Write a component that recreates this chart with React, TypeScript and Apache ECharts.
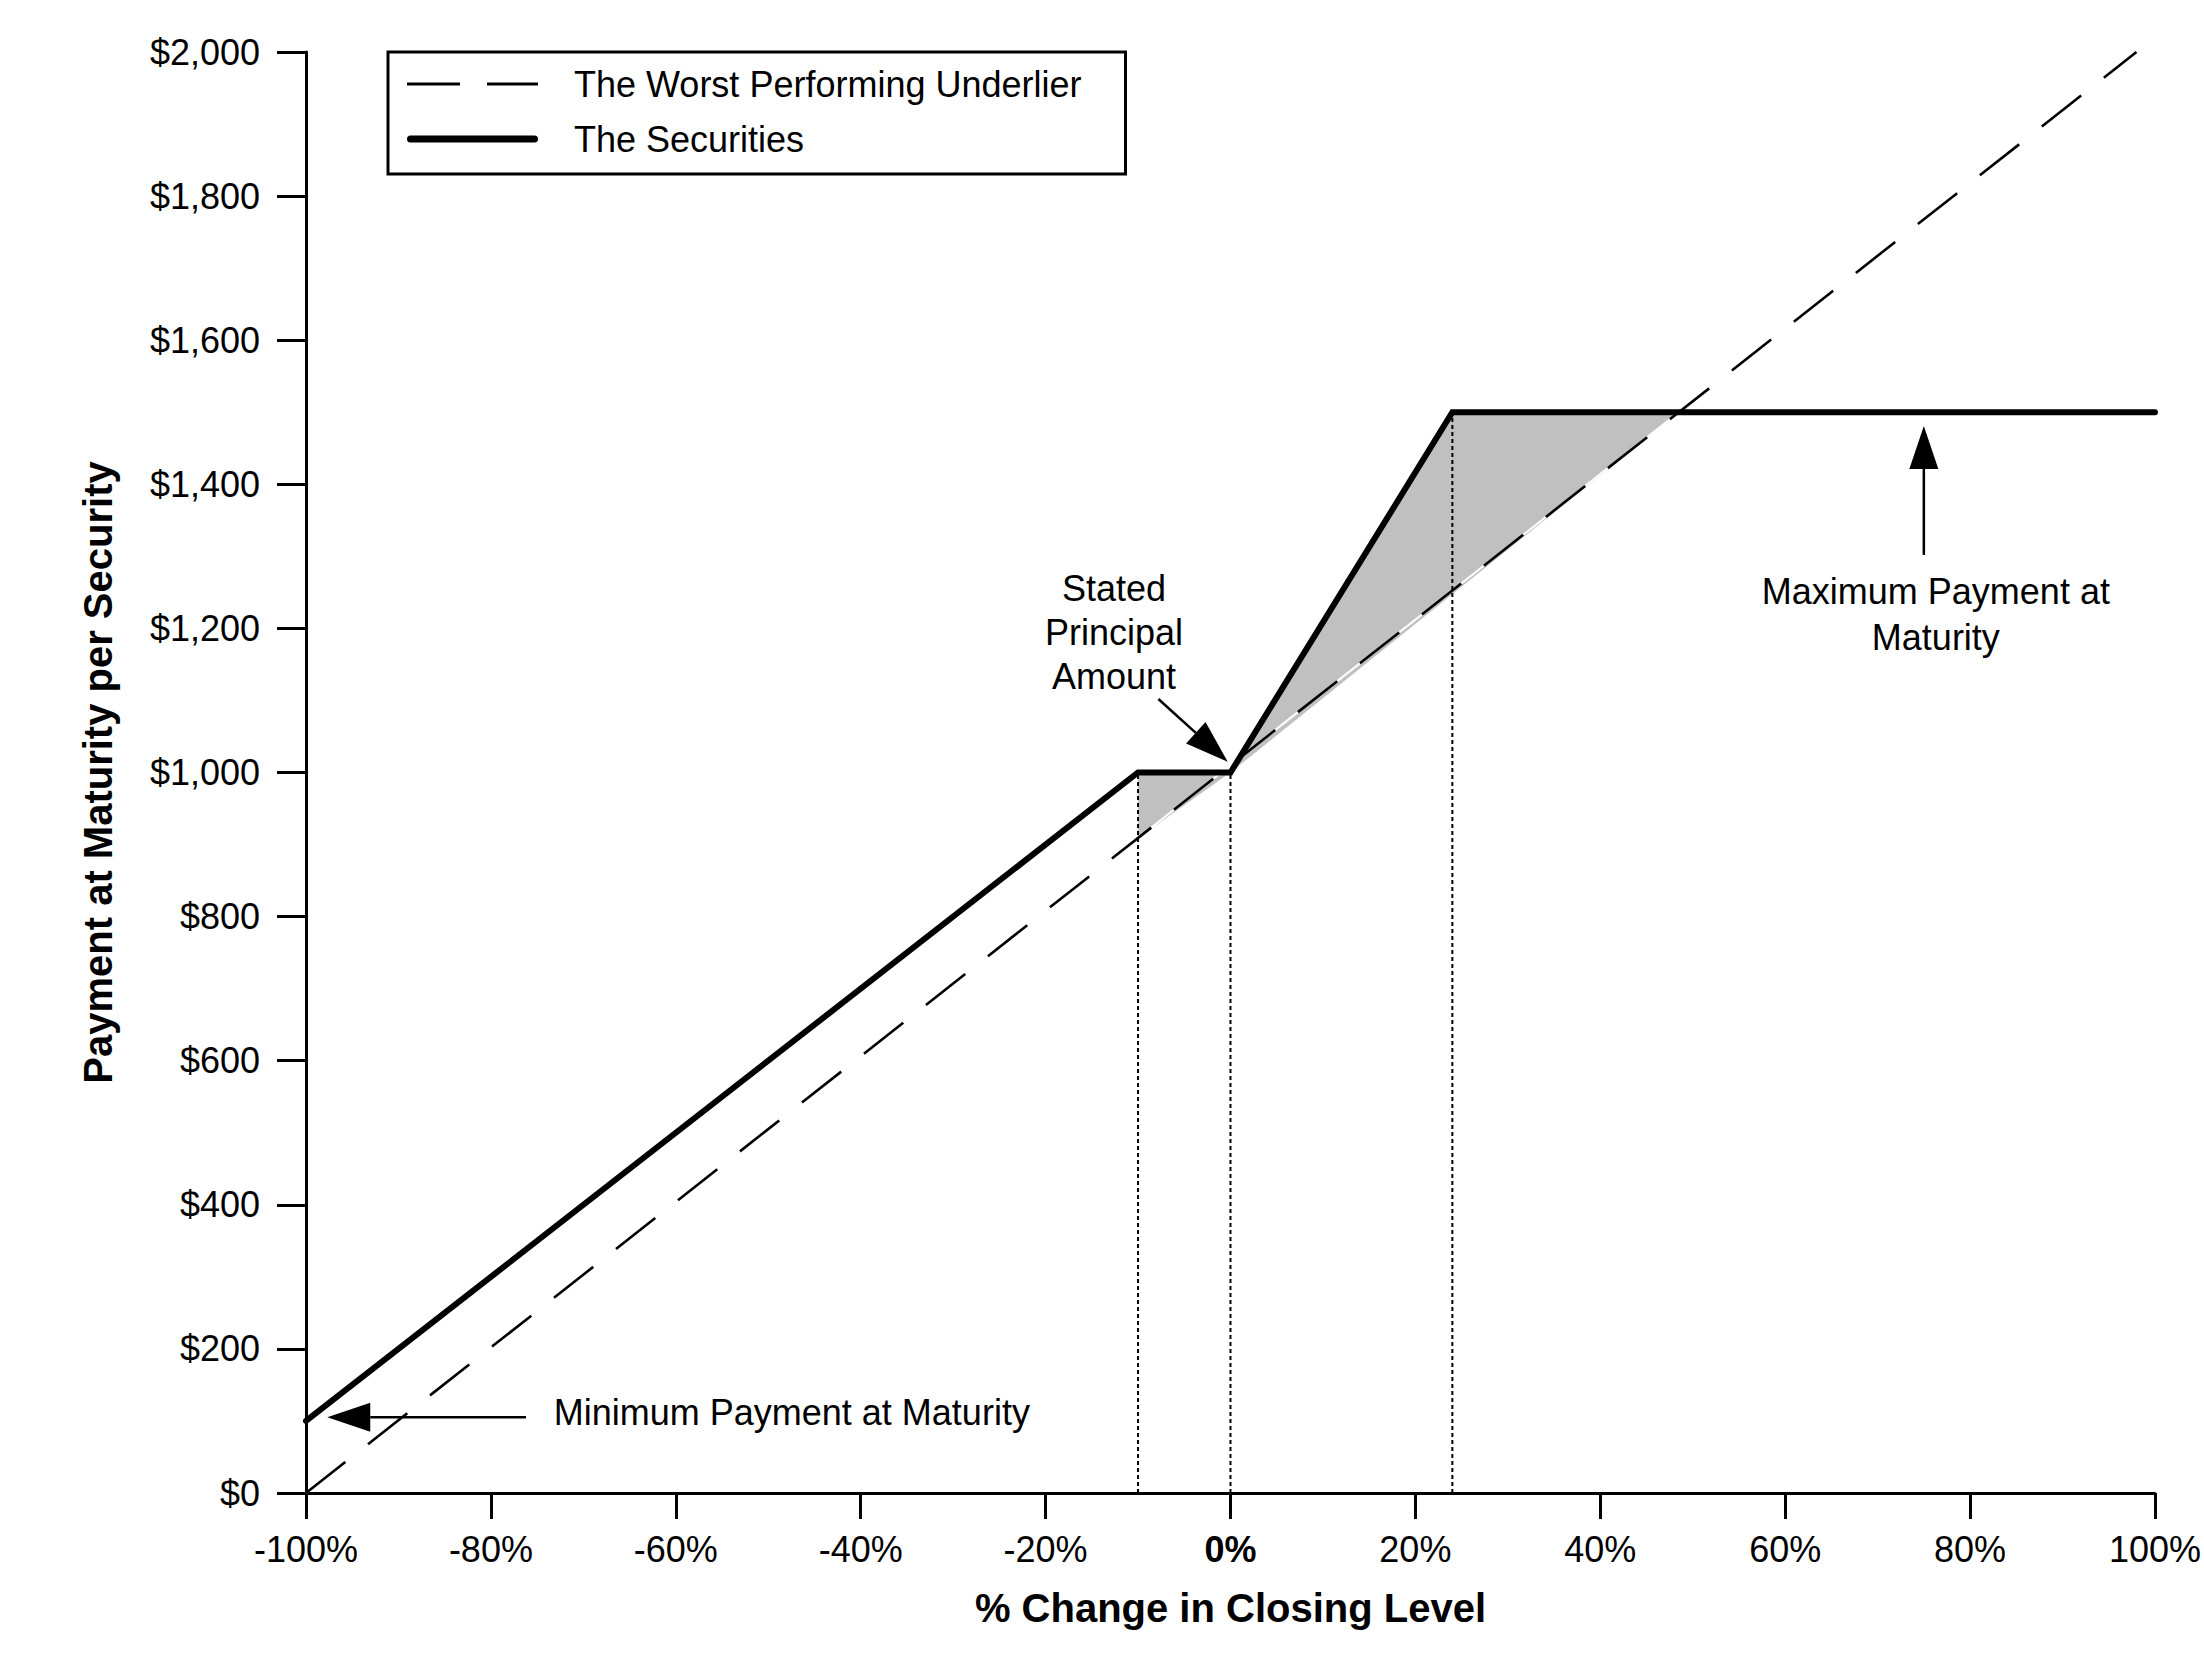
import React, { useEffect, useRef } from "react";
import * as echarts from "echarts";

const FONT = '"Liberation Sans", Arial, Helvetica, sans-serif';

// Axes
const xMin = -100;
const xMax = 100;
const xStep = 20;
const yMin = 0;
const yMax = 2000;
const yStep = 200;

// Series (x = % change in closing level, y = payment at maturity, $)
const underlierPoints: [number, number][] = [
  [-100, 0],
  [98, 2000],
];
const underlierDash = [50, 28.9];
const securitiesPoints: [number, number][] = [
  [-100, 100],
  [-10, 1000],
  [0, 1000],
  [24, 1500],
  [100, 1500],
];

// Shaded regions (vertices)
const bufferShade: [number, number][] = [
  [-10, 1000],
  [0, 1000],
  [-10, 909],
];
const upsideShade: [number, number][] = [
  [0, 1000],
  [24, 1500],
  [48.5, 1500],
];
const shades = [bufferShade, upsideShade];

// Vertical dotted guide lines: [x, top y]
const guideLines: [number, number][] = [
  [-10, 1000],
  [0, 1000],
  [24, 1500],
];

// Annotation arrows: [tailX, tailY, tipX, tipY]
const arrowSegments: [number, number, number, number][] = [
  [-7.8, 1102, -0.3, 1015],
  [75, 1302, 75, 1481],
  [-76.2, 105, -97.7, 105],
];

// Annotation texts
const noteTexts = [
  "Stated\nPrincipal\nAmount",
  "Maximum Payment at\nMaturity",
  "Minimum Payment at Maturity",
];
const notePositions: [number, number][] = [
  [-12.6, 1195],
  [76.3, 1219],
  [-73.2, 112],
];
const noteAligns = ["center", "center", "left"];
const noteLineHeights = [44, 46, 44];

const legendNames = ["The Worst Performing Underlier", "The Securities"];

// Legend sample icons (drawn in a 131 x 20 box)
const dashedIcon =
  "path://M0,0L0.01,0L0,0.01Z M0,8.6H53V11.4H0Z M80,8.6H131V11.4H80Z M131,20L130.99,20L131,19.99Z";
const solidIcon =
  "path://M0,0L0.01,0L0,0.01Z M3.5,6.5H127.5A3.5,3.5 0 0 1 127.5,13.5H3.5A3.5,3.5 0 0 1 3.5,6.5Z M131,20L130.99,20L131,19.99Z";

export default function App() {
  const ref = useRef<HTMLDivElement | null>(null);

  useEffect(() => {
    document.body.style.margin = "0";
    if (!ref.current) return;
    const chart = echarts.init(ref.current, undefined, { renderer: "svg" });

    const option: any = {
      animation: false,
      backgroundColor: "#ffffff",
      grid: { left: 306, right: 39, top: 52, bottom: 171, containLabel: false },
      legend: {
        data: [
          { name: legendNames[0], icon: dashedIcon },
          { name: legendNames[1], icon: solidIcon },
        ],
        orient: "vertical",
        left: 388,
        top: 52,
        itemWidth: 131,
        itemHeight: 20,
        itemGap: 19,
        padding: [14, 44, 17, 19],
        borderColor: "#000",
        borderWidth: 3,
        borderRadius: 0,
        selectedMode: false,
        itemStyle: { color: "#000", borderWidth: 0 },
        textStyle: {
          fontFamily: FONT,
          fontSize: 36,
          color: "#000",
          padding: [0, 0, 0, 31],
        },
      },
      xAxis: {
        type: "value",
        min: xMin,
        max: xMax,
        interval: xStep,
        name: "% Change in Closing Level",
        nameLocation: "middle",
        nameGap: 95,
        nameTextStyle: {
          fontFamily: FONT,
          fontSize: 40,
          fontWeight: "bold",
          color: "#000",
        },
        axisLine: { show: true, onZero: false, lineStyle: { color: "#000", width: 3 } },
        axisTick: { show: true, inside: false, length: 26, lineStyle: { color: "#000", width: 3 } },
        axisLabel: {
          margin: 38,
          color: "#000",
          fontFamily: FONT,
          fontSize: 36,
          formatter: (v: number) => (v === 0 ? "{b|0%}" : v + "%"),
          rich: {
            b: { fontFamily: FONT, fontSize: 36, fontWeight: "bold", color: "#000" },
          },
        },
        splitLine: { show: false },
      },
      yAxis: {
        type: "value",
        min: yMin,
        max: yMax,
        interval: yStep,
        name: "Payment at Maturity per Security",
        nameLocation: "middle",
        nameRotate: 90,
        nameGap: 188,
        nameTextStyle: {
          fontFamily: FONT,
          fontSize: 40,
          fontWeight: "bold",
          color: "#000",
        },
        axisLine: { show: true, onZero: false, lineStyle: { color: "#000", width: 3 } },
        axisTick: { show: true, inside: false, length: 29, lineStyle: { color: "#000", width: 3 } },
        axisLabel: {
          margin: 46,
          color: "#000",
          fontFamily: FONT,
          fontSize: 36,
          formatter: (v: number) => "$" + v.toLocaleString("en-US"),
        },
        splitLine: { show: false },
      },
      series: [
        {
          type: "custom",
          name: "shade",
          z: 1,
          silent: true,
          data: shades.map((s) => s[0]),
          renderItem: (params: any, api: any) => {
            const poly = shades[params.dataIndex];
            return {
              type: "polygon",
              shape: { points: poly.map((p) => api.coord(p)) },
              style: { fill: "#c0c0c0", stroke: "none" },
            };
          },
        },
        {
          type: "line",
          name: "underlierBase",
          z: 2,
          silent: true,
          symbol: "none",
          showSymbol: false,
          data: underlierPoints,
          lineStyle: { color: "#ffffff", width: 2, type: "solid" },
        },
        {
          type: "line",
          name: legendNames[0],
          z: 3,
          silent: true,
          symbol: "none",
          showSymbol: false,
          data: underlierPoints,
          lineStyle: { color: "#000", width: 2.6, type: underlierDash, cap: "butt" },
          itemStyle: { color: "#000" },
        },
        {
          type: "custom",
          name: "guides",
          z: 4,
          silent: true,
          data: guideLines,
          renderItem: (params: any, api: any) => {
            const g = guideLines[params.dataIndex];
            const a = api.coord([g[0], yMin]);
            const b = api.coord([g[0], g[1]]);
            return {
              type: "line",
              shape: { x1: a[0], y1: a[1], x2: b[0], y2: b[1] },
              style: { stroke: "#000", lineWidth: 2, lineDash: [4, 3] },
            };
          },
        },
        {
          type: "line",
          name: legendNames[1],
          z: 5,
          silent: true,
          symbol: "none",
          showSymbol: false,
          data: securitiesPoints,
          lineStyle: { color: "#000", width: 6, type: "solid", cap: "round", join: "miter" },
          itemStyle: { color: "#000" },
        },
        {
          type: "custom",
          name: "arrows",
          z: 6,
          silent: true,
          data: arrowSegments,
          renderItem: (params: any, api: any) => {
            const [tx, ty, hx, hy] = arrowSegments[params.dataIndex];
            const a = api.coord([tx, ty]);
            const b = api.coord([hx, hy]);
            const dx = b[0] - a[0];
            const dy = b[1] - a[1];
            const L = Math.hypot(dx, dy) || 1;
            const ux = dx / L;
            const uy = dy / L;
            const headLen = 43;
            const headHalf = 14.5;
            const base = [b[0] - ux * headLen, b[1] - uy * headLen];
            const px = -uy;
            const py = ux;
            return {
              type: "group",
              children: [
                {
                  type: "line",
                  shape: { x1: a[0], y1: a[1], x2: base[0], y2: base[1] },
                  style: { stroke: "#000", lineWidth: 2.5 },
                },
                {
                  type: "polygon",
                  shape: {
                    points: [
                      [b[0], b[1]],
                      [base[0] + px * headHalf, base[1] + py * headHalf],
                      [base[0] - px * headHalf, base[1] - py * headHalf],
                    ],
                  },
                  style: { fill: "#000", stroke: "none" },
                },
              ],
            };
          },
        },
        {
          type: "custom",
          name: "notes",
          z: 7,
          silent: true,
          data: notePositions,
          renderItem: (params: any, api: any) => {
            const i = params.dataIndex;
            const p = api.coord(notePositions[i]);
            return {
              type: "text",
              x: p[0],
              y: p[1],
              style: {
                text: noteTexts[i],
                fill: "#000",
                fontFamily: FONT,
                fontSize: 36,
                align: noteAligns[i],
                verticalAlign: "middle",
                lineHeight: noteLineHeights[i],
              },
            };
          },
        },
      ],
    };

    chart.setOption(option);
    return () => {
      chart.dispose();
    };
  }, []);

  return (
    <div
      ref={ref}
      style={{ position: "absolute", left: 0, top: 0, width: 2204, height: 1664, background: "#fff" }}
    />
  );
}
